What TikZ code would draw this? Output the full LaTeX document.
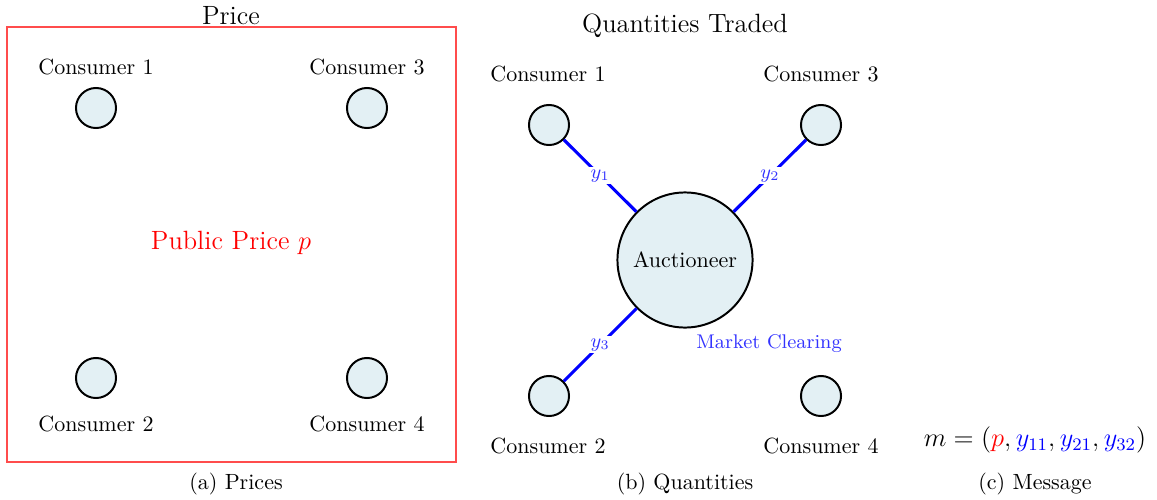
\documentclass[tikz,border=0pt]{standalone}
\usepackage{xcolor}
\definecolor{nodefill}{RGB}{227,240,244}
\begin{document}
\begin{tikzpicture}[x=0.4545pt,y=-0.4545pt,
  consumer/.style={circle,draw=black,line width=0.9pt,fill=nodefill,minimum size=18.2pt,inner sep=0pt},
  auction/.style={circle,draw=black,line width=0.9pt,fill=nodefill,minimum size=61.4pt,inner sep=0pt},
  lbl/.style={font=\normalsize,inner sep=0pt},
  title/.style={font=\large,inner sep=0pt},
  trade/.style={draw=blue,line width=1.4pt},
  qlabel/.style={fill=white,inner sep=1pt,font=\small,text=blue!80,midway}
]
\useasboundingbox (0,0) rectangle (1157,500);
% ---------- (a) Prices ----------
\node[draw=red!70,line width=0.6pt,minimum width=204pt,minimum height=197.7pt,inner sep=0pt] (frame) at (231.5,244.5) {};
\node[title] (ptitle) at (231,16) {Price};
\node[consumer] (a1) at (96,108) {};
\node[consumer] (a3) at (367,108) {};
\node[consumer] (a2) at (96,378) {};
\node[consumer] (a4) at (367,378) {};
\node[lbl] (a1l) at (96,67) {Consumer 1};
\node[lbl] (a3l) at (367,67) {Consumer 3};
\node[lbl] (a2l) at (96,424) {Consumer 2};
\node[lbl] (a4l) at (367,424) {Consumer 4};
\node[title,text=red] (pub) at (231,243) {Public Price $p$};
\node[lbl] (capa) at (236,484) {(a) Prices};
% ---------- (b) Quantities ----------
\node[title] (qtitle) at (685,26) {Quantities Traded};
\node[auction] (auc) at (685,260) {Auctioneer};
\node[consumer] (b1) at (549,125) {};
\node[consumer] (b3) at (821,125) {};
\node[consumer] (b2) at (549,396) {};
\node[consumer] (b4) at (821,396) {};
\node[lbl] (b1l) at (548,74) {Consumer 1};
\node[lbl] (b3l) at (821,74) {Consumer 3};
\node[lbl] (b2l) at (548,446) {Consumer 2};
\node[lbl] (b4l) at (821,446) {Consumer 4};
\draw[trade] (b1) -- node[qlabel] {$y_1$} (auc);
\draw[trade] (b3) -- node[qlabel] {$y_2$} (auc);
\draw[trade] (auc) -- node[qlabel] {$y_3$} (b2);
\node[font=\small,text=blue!80,inner sep=0pt] (mc) at (769,344) {Market Clearing};
\node[lbl] (capb) at (685,484) {(b) Quantities};
% ---------- (c) Message ----------
\node[font=\large,inner sep=0pt] (msg) at (1035,440) {$m=({\color{red}p},{\color{blue}y_{11}},{\color{blue}y_{21}},{\color{blue}y_{32}})$};
\node[lbl] (capc) at (1035,484) {(c) Message};
\end{tikzpicture}
\end{document}
